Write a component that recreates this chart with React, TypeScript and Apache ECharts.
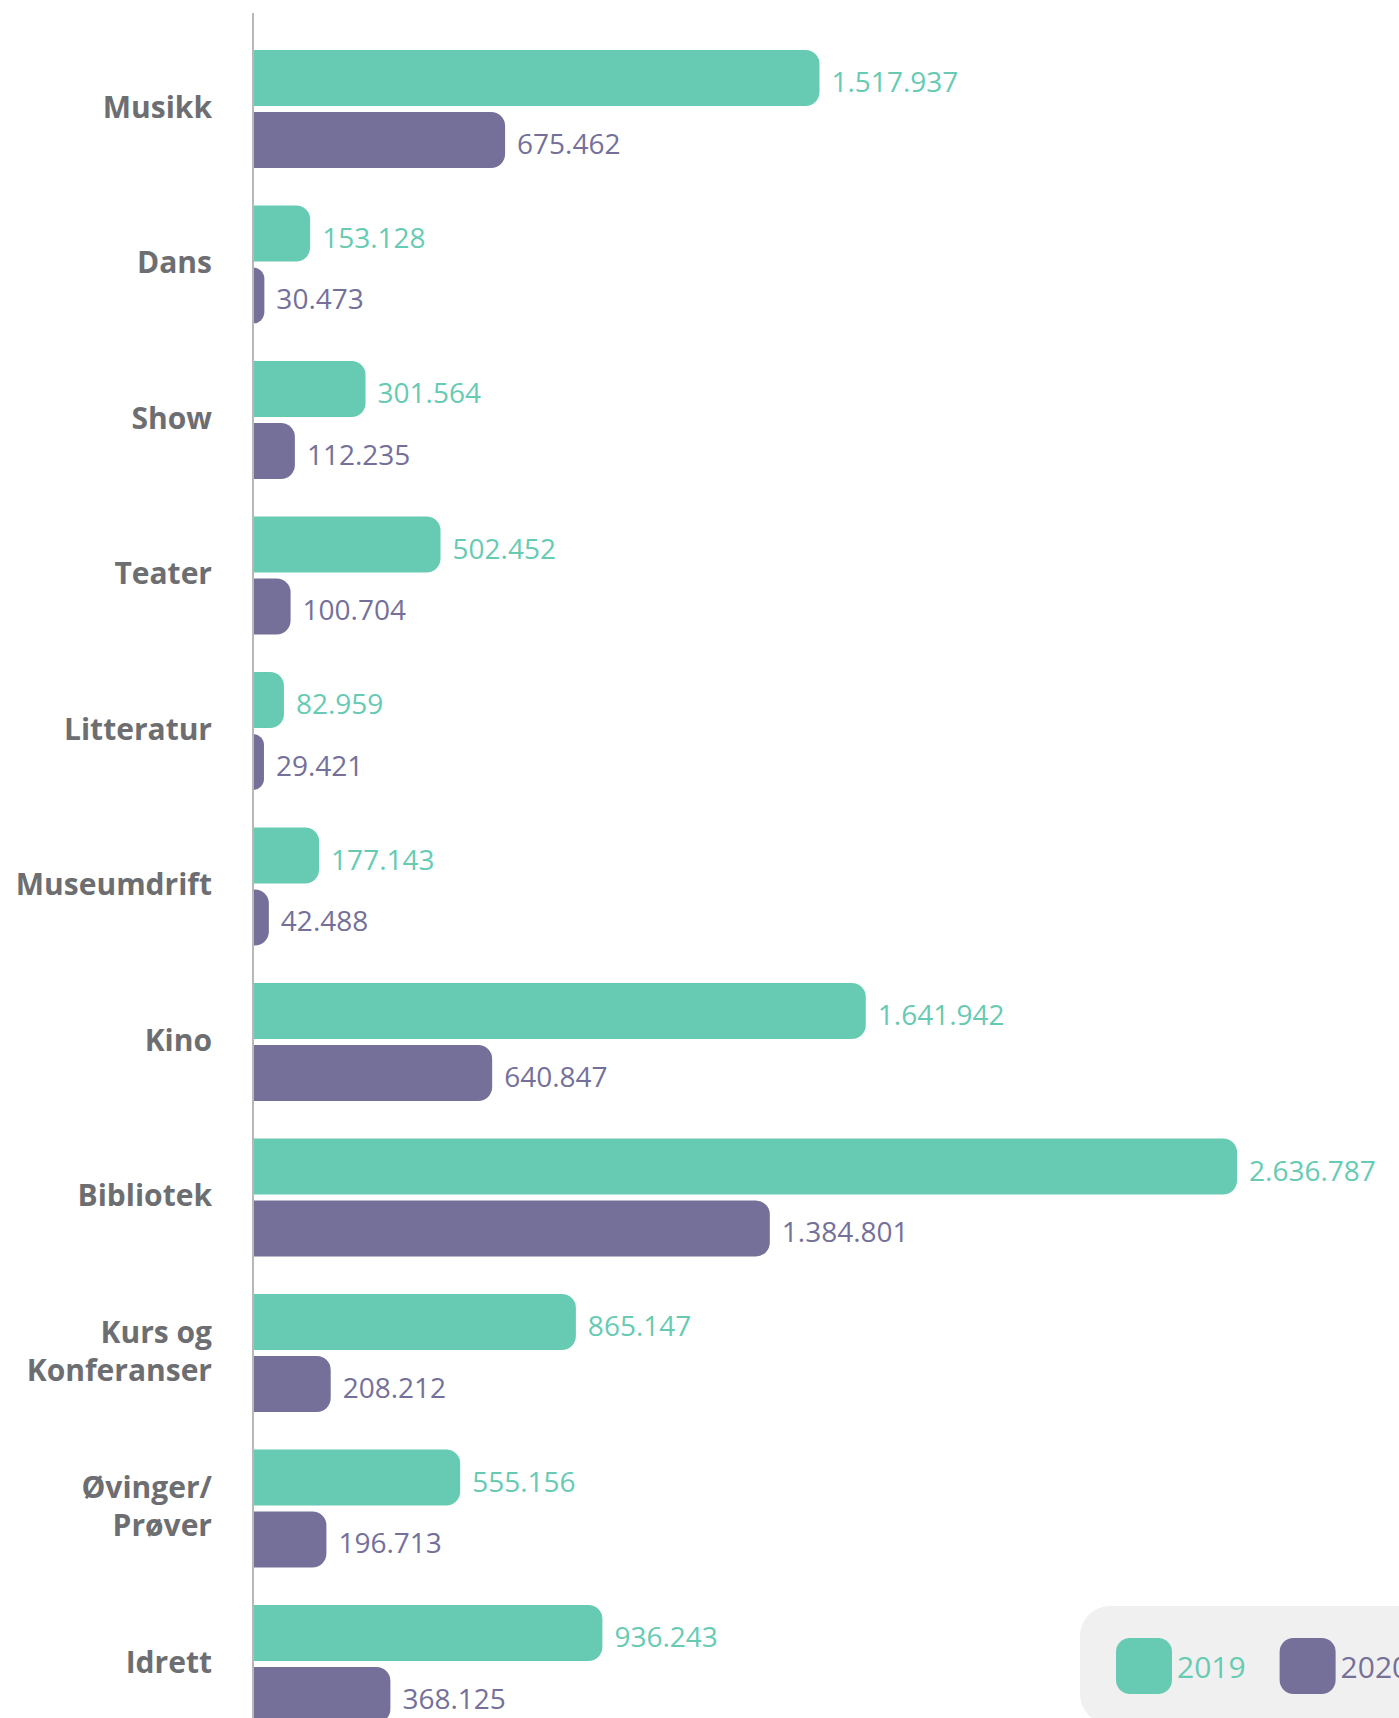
import React, { useEffect, useRef } from "react";
import * as echarts from "echarts";

const categories = [
  "Musikk",
  "Dans",
  "Show",
  "Teater",
  "Litteratur",
  "Museumdrift",
  "Kino",
  "Bibliotek",
  "Kurs og\nKonferanser",
  "Øvinger/\nPrøver",
  "Idrett",
];
const values2019 = [1517937, 153128, 301564, 502452, 82959, 177143, 1641942, 2636787, 865147, 555156, 936243];
const values2020 = [675462, 30473, 112235, 100704, 29421, 42488, 640847, 1384801, 208212, 196713, 368125];
const seriesNames = ["2019", "2020"];

const GREEN = "#66cbb2";
const PURPLE = "#74709a";
const FONT = "'Open Sans', Lato, 'DejaVu Sans', sans-serif";

const fmt = (v: number) => String(v).replace(/\B(?=(\d{3})+(?!\d))/g, ".");

export default function App() {
  const ref = useRef<HTMLDivElement>(null);
  useEffect(() => {
    if (!ref.current) return;
    const chart = echarts.init(ref.current, undefined, { renderer: "svg" });
    const mkSeries = (name: string, data: number[], color: string) => ({
      name,
      type: "bar",
      data,
      barWidth: 56,
      barGap: "10.7%",
      itemStyle: { color, borderRadius: [0, 14, 14, 0] },
      label: {
        show: true,
        position: "right",
        distance: 12,
        offset: [0, 3],
        formatter: (p: any) => fmt(p.value),
        color,
        fontSize: 28,
        fontWeight: 400,
        fontFamily: FONT,
      },
    });
    chart.setOption({
      animation: false,
      grid: { left: 253, top: 31.25, height: 1710.5, width: 1119.6, containLabel: false },
      xAxis: { type: "value", min: 0, max: 3000000, show: false, splitLine: { show: false } },
      yAxis: {
        type: "category",
        data: categories,
        inverse: true,
        axisLine: { show: false },
        axisTick: { show: false },
        axisLabel: {
          margin: 41,
          align: "right",
          formatter: (v: string) =>
            v
              .split("\n")
              .map((s) => `{a|${s}}`)
              .join("\n"),
          rich: {
            a: {
              fontSize: 30,
              fontWeight: "bold",
              color: "#6d6e71",
              fontFamily: FONT,
              lineHeight: 38,
              align: "right",
            },
          },
          padding: [0, 0, 6, 0],
        },
      },
      legend: {
        data: seriesNames,
        left: 1080,
        top: 1606,
        orient: "horizontal",
        backgroundColor: "#f0f0f0",
        borderRadius: 30,
        padding: [32, 36, 30, 36],
        itemWidth: 56,
        itemHeight: 56,
        itemGap: 34,
        icon: "roundRect",
        formatter: (name: string) => (name === "2019" ? `{g|${name}}` : `{p|${name}}`),
        textStyle: {
          fontSize: 30,
          fontFamily: FONT,
          fontWeight: 400,
          rich: {
            g: { color: GREEN, fontSize: 30, fontWeight: 400, fontFamily: FONT },
            p: { color: PURPLE, fontSize: 30, fontWeight: 400, fontFamily: FONT },
          },
        },
      },
      graphic: [
        {
          type: "line",
          z: 100,
          shape: { x1: 253, y1: 13, x2: 253, y2: 1760 },
          style: { stroke: "#b8b8b8", lineWidth: 2 },
        },
      ],
      series: [mkSeries(seriesNames[0], values2019, GREEN), mkSeries(seriesNames[1], values2020, PURPLE)],
    });
    return () => chart.dispose();
  }, []);
  return (
    <div
      style={{
        position: "fixed",
        left: 0,
        top: 0,
        width: 1399,
        height: 1718,
        overflow: "hidden",
        background: "#fff",
      }}
    >
      <div ref={ref} style={{ position: "absolute", left: 0, top: 0, width: 1500, height: 1760 }} />
    </div>
  );
}
